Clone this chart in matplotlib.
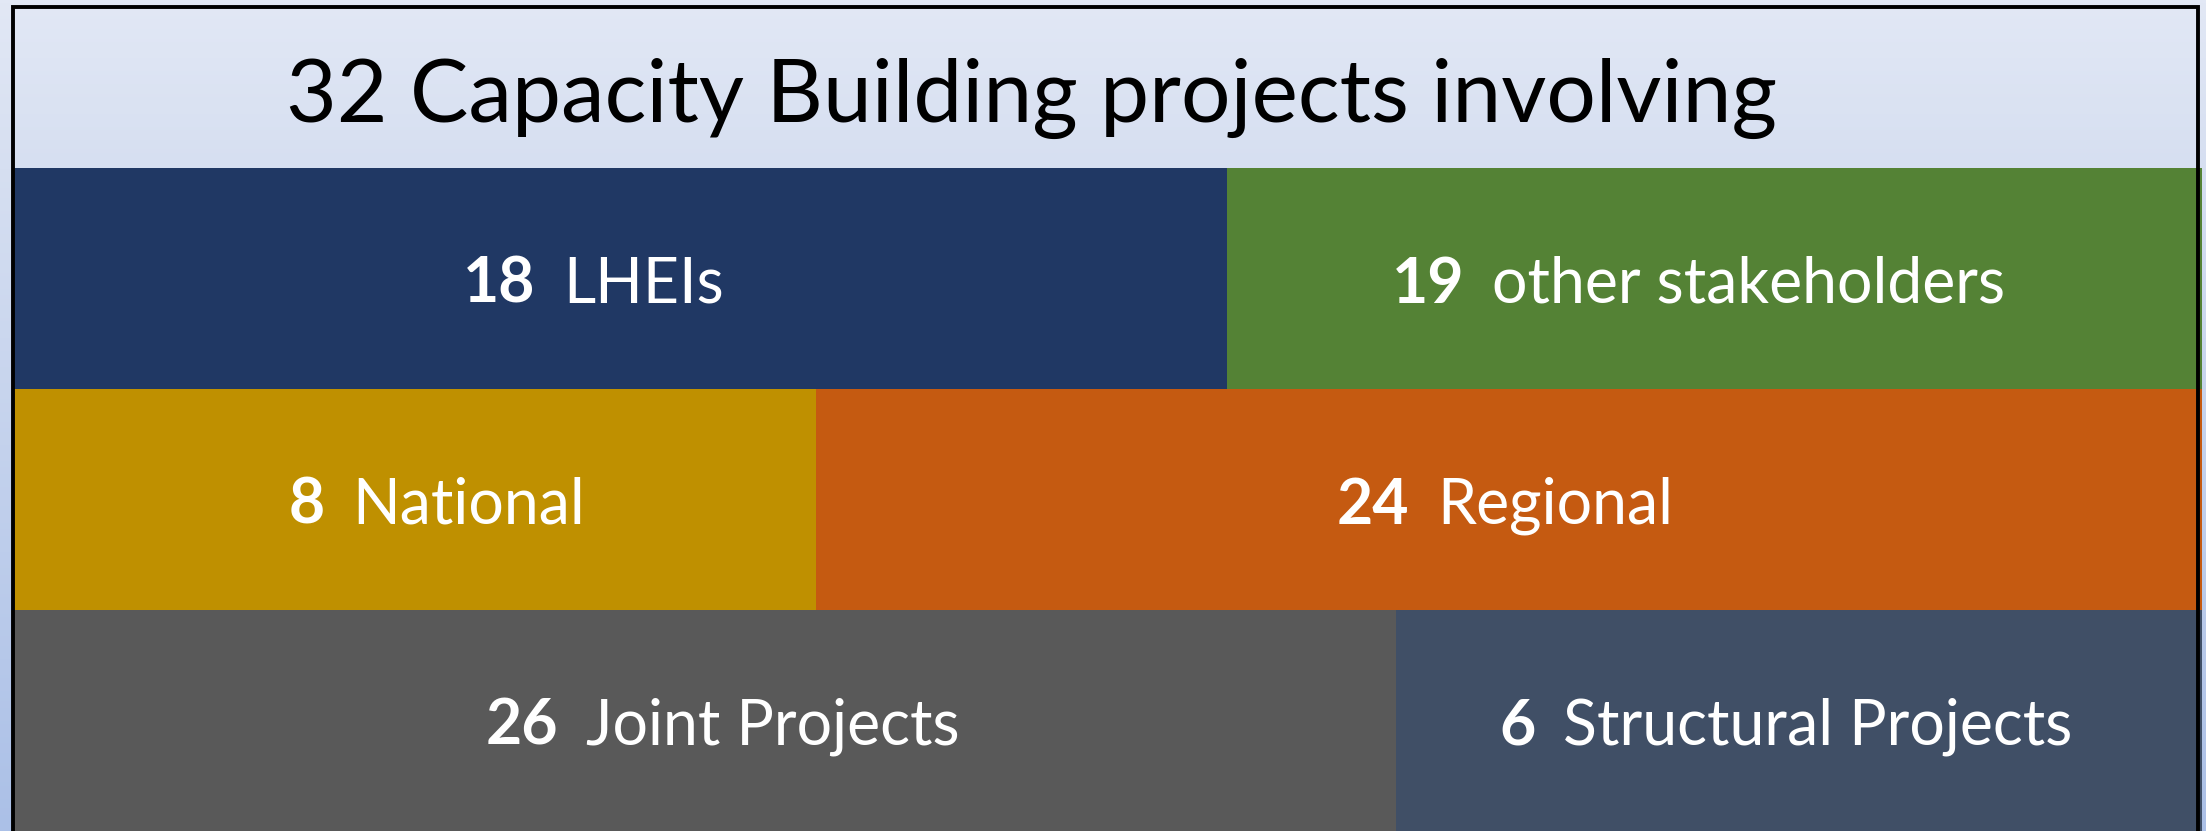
import numpy as np
import matplotlib.pyplot as plt
from matplotlib.colors import LinearSegmentedColormap
from matplotlib.patches import Rectangle

title = "32 Capacity Building projects involving"

row_counts = [[18, 19], [8, 24], [26, 6]]
row_labels = [["LHEIs", "other stakeholders"],
              ["National", "Regional"],
              ["Joint Projects", "Structural Projects"]]

# where each row is split, as a fraction of the width
splits = [0.5545, 0.3665, 0.6316]
row_colors = [["#203864", "#548235"],
              ["#bf9000", "#c55a11"],
              ["#595959", "#404f66"]]
# small nudges (px) of each label away from the box centre
nudge = [[-27, -16], [22, -4], [18, -13]]

plt.rcParams["font.family"] = ["Lato", "DejaVu Sans"]

W, H = 2206, 831
fig = plt.figure(figsize=(W / 100, H / 100), dpi=100)

# light blue gradient background
bg = fig.add_axes([0, 0, 1, 1])
cmap = LinearSegmentedColormap.from_list(
    "bg", [(0, "#e2e8f5"), (0.2, "#d6dff1"), (1, "#abc0e7")])
bg.imshow(np.linspace(0, 1, 256).reshape(-1, 1), cmap=cmap,
          aspect="auto", extent=[0, 1, 0, 1])
bg.axis("off")

ax = fig.add_axes([14 / W, 0, (2202 - 14) / W, (831 - 168) / H])
for i in range(3):
    ax.barh(i, splits[i], left=0, height=1, color=row_colors[i][0])
    ax.barh(i, 1 - splits[i], left=splits[i], height=1, color=row_colors[i][1])
ax.set_xlim(0, 1)
ax.set_ylim(2.5, -0.5)
ax.axis("off")

# black frame
fig.add_artist(Rectangle((12.5 / W, -0.05), (2197.5 - 12.5) / W, 1.05 - 6.5 / H,
                         transform=fig.transFigure, fill=False,
                         edgecolor="black", lw=2.8, zorder=5))

fig.text(1032 / W, 1 - 122 / H, title, ha="center", va="baseline",
         fontsize=63, color="black")

fig.canvas.draw()
r = fig.canvas.get_renderer()
ax_w = ax.get_window_extent(r).width
gap = 28
for i in range(3):
    for k in range(2):
        x0 = 0 if k == 0 else splits[i]
        x1 = splits[i] if k == 0 else 1
        t1 = ax.text(0, i + 0.11, str(row_counts[i][k]), fontweight="bold",
                     fontsize=45, color="white", ha="left", va="baseline")
        t2 = ax.text(0, i + 0.11, row_labels[i][k],
                     fontsize=45, color="white", ha="left", va="baseline")
        w1 = t1.get_window_extent(r).width
        w2 = t2.get_window_extent(r).width
        start = (x0 + x1) / 2 * ax_w + nudge[i][k] - (w1 + gap + w2) / 2
        t1.set_x(start / ax_w)
        t2.set_x((start + w1 + gap) / ax_w)

fig.savefig("out.png", dpi=100)
